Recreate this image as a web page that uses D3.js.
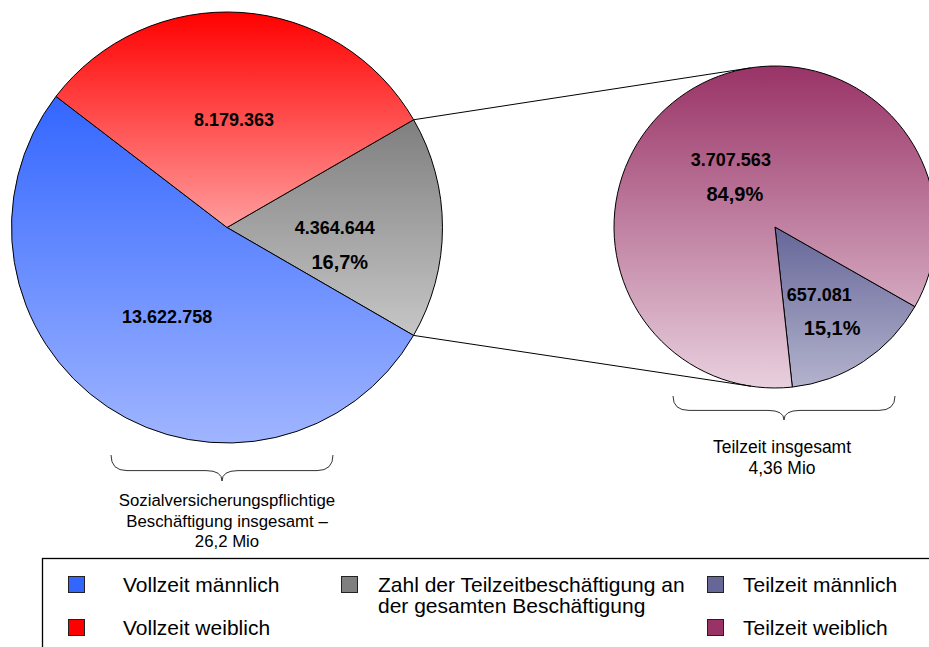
<!DOCTYPE html>
<html>
<head>
<meta charset="utf-8">
<script src="https://cdnjs.cloudflare.com/ajax/libs/d3/7.8.5/d3.min.js"></script>
<style>
  body { margin: 0; background: #fff; }
  svg { display: block; font-family: Arial, "Liberation Sans", sans-serif; }
</style>
</head>
<body>
<div id="chart"></div>
<script>
// Beschäftigung gesamt (Teilzeit / Vollzeit männlich / Vollzeit weiblich)
var mainKeys = ["teil", "vollM", "vollW"];
var mainValues = [4364644, 13622758, 8179363];
// Teilzeit (männlich / weiblich)
var partKeys = ["teilM", "teilW"];
var partValues = [657081, 3707563];

var legendLabels = {
    vollM: ["Vollzeit männlich"],
    vollW: ["Vollzeit weiblich"],
    teil: ["Zahl der Teilzeitbeschäftigung an", "der gesamten Beschäftigung"],
    teilM: ["Teilzeit männlich"],
    teilW: ["Teilzeit weiblich"]
};

// top / bottom colour of each vertical gradient
var colors = {
    vollM: ["#3366ff", "#a0b5ff"],
    vollW: ["#ff0000", "#ff9d9d"],
    teil: ["#7f7f7f", "#c6c6c6"],
    teilM: ["#666699", "#b3b3cd"],
    teilW: ["#993366", "#e8d0de"]
};

var de = d3.formatLocale({ decimal: ",", thousands: ".", grouping: [3], currency: ["", " €"] });
var fmtNum = de.format(",d"),
    fmtPct = de.format(".1%");

var width = 929, height = 647;

var svg = d3.select("#chart").append("svg")
    .attr("width", width)
    .attr("height", height);

var defs = svg.append("defs");
Object.keys(colors).forEach(function (k) {
    var g = defs.append("linearGradient")
        .attr("id", "grad-" + k)
        .attr("x1", 0).attr("y1", 0).attr("x2", 0).attr("y2", 1);
    g.append("stop").attr("offset", "0%").attr("stop-color", colors[k][0]);
    g.append("stop").attr("offset", "100%").attr("stop-color", colors[k][1]);
});

var bigR = 215.5, bigC = [227, 227.5];
var smallR = 161, smallC = [775, 227];

var mainTotal = d3.sum(mainValues),
    partTotal = d3.sum(partValues);

// ---- große Torte
var pieMain = d3.pie().sort(null)
    .startAngle(Math.PI / 3)
    .endAngle(Math.PI / 3 + 2 * Math.PI);

var arcMain = d3.arc().innerRadius(0).outerRadius(bigR);
var labelMain = d3.arc().innerRadius(bigR * 0.5).outerRadius(bigR * 0.5);

var mainArcs = pieMain(mainValues);

var gMain = svg.append("g")
    .attr("transform", "translate(" + bigC[0] + "," + bigC[1] + ")");

gMain.selectAll("path")
    .data(mainArcs)
    .enter().append("path")
    .attr("d", arcMain)
    .attr("fill", function (d, i) { return "url(#grad-" + mainKeys[i] + ")"; })
    .attr("stroke", "#000")
    .attr("stroke-width", 1);

gMain.selectAll("text.num")
    .data(mainArcs)
    .enter().append("text")
    .attr("class", "num")
    .attr("transform", function (d) { return "translate(" + labelMain.centroid(d) + ")"; })
    .attr("dy", "0.35em")
    .attr("text-anchor", "middle")
    .style("font-size", "18px")
    .style("font-weight", "bold")
    .text(function (d) { return fmtNum(d.value); });

// Anteil Teilzeit
gMain.append("text")
    .attr("transform", "translate(" + labelMain.centroid(mainArcs[0]) + ")")
    .attr("x", 5)
    .attr("y", 41)
    .attr("text-anchor", "middle")
    .style("font-size", "20px")
    .style("font-weight", "bold")
    .text(fmtPct(mainValues[0] / mainTotal));

// ---- kleine Torte
var piePart = d3.pie().sort(null)
    .startAngle(2.088)
    .endAngle(2.088 + 2 * Math.PI);

var arcPart = d3.arc().innerRadius(0).outerRadius(smallR);
var labelPart = d3.arc().innerRadius(smallR * 0.5).outerRadius(smallR * 0.5);

var partArcs = piePart(partValues);

var gPart = svg.append("g")
    .attr("transform", "translate(" + smallC[0] + "," + smallC[1] + ")");

gPart.selectAll("path")
    .data(partArcs)
    .enter().append("path")
    .attr("d", arcPart)
    .attr("fill", function (d, i) { return "url(#grad-" + partKeys[i] + ")"; })
    .attr("stroke", "#000")
    .attr("stroke-width", 1);

gPart.selectAll("text.num")
    .data(partArcs)
    .enter().append("text")
    .attr("class", "num")
    .attr("transform", function (d) { return "translate(" + labelPart.centroid(d) + ")"; })
    .attr("dy", "0.35em")
    .attr("text-anchor", "middle")
    .style("font-size", "18px")
    .style("font-weight", "bold")
    .text(function (d) { return fmtNum(d.value); });

gPart.selectAll("text.pct")
    .data(partArcs)
    .enter().append("text")
    .attr("class", "pct")
    .attr("transform", function (d) { return "translate(" + labelPart.centroid(d) + ")"; })
    .attr("x", function (d, i) { return i === 0 ? 13 : 4; })
    .attr("y", 41)
    .attr("text-anchor", "middle")
    .style("font-size", "20px")
    .style("font-weight", "bold")
    .text(function (d) { return fmtPct(d.value / partTotal); });

// ---- Verbindungslinien: von den Rändern des Teilzeit-Segments tangential an die kleine Torte
function tangent(p, c, r, sign) {
    var dx = c[0] - p[0], dy = c[1] - p[1];
    var d = Math.sqrt(dx * dx + dy * dy);
    var base = Math.atan2(dy, dx);
    var off = Math.asin(r / d) * sign;
    var len = Math.sqrt(d * d - r * r);
    return [p[0] + len * Math.cos(base + off), p[1] + len * Math.sin(base + off)];
}

var teilArc = mainArcs[0];
[teilArc.startAngle, teilArc.endAngle].forEach(function (a, i) {
    var p = [bigC[0] + bigR * Math.sin(a), bigC[1] - bigR * Math.cos(a)];
    var t = tangent(p, smallC, smallR, i === 0 ? -1 : 1);
    svg.append("line")
        .attr("x1", p[0]).attr("y1", p[1])
        .attr("x2", t[0]).attr("y2", t[1])
        .attr("stroke", "#000")
        .attr("stroke-width", 1);
});

// ---- geschweifte Klammern
function brace(x1, x2, y0, h) {
    var xm = (x1 + x2) / 2, ym = y0 + h * 0.6, w = 16;
    return "M" + x1 + "," + y0 +
        "Q" + x1 + "," + ym + " " + (x1 + w) + "," + ym +
        "L" + (xm - w) + "," + ym +
        "Q" + xm + "," + ym + " " + xm + "," + (y0 + h) +
        "Q" + xm + "," + ym + " " + (xm + w) + "," + ym +
        "L" + (x2 - w) + "," + ym +
        "Q" + x2 + "," + ym + " " + x2 + "," + y0;
}

svg.append("path")
    .attr("d", brace(111, 333, 455, 26))
    .attr("fill", "none")
    .attr("stroke", "#333")
    .attr("stroke-width", 1);

svg.append("path")
    .attr("d", brace(673, 895, 396, 24))
    .attr("fill", "none")
    .attr("stroke", "#333")
    .attr("stroke-width", 1);

var mio = de.format(",.1f"), mio2 = de.format(",.2f");

svg.append("text")
    .attr("x", 227).attr("y", 506)
    .attr("text-anchor", "middle")
    .style("font-size", "16.8px")
    .selectAll("tspan")
    .data(["Sozialversicherungspflichtige", "Beschäftigung insgesamt –", mio(mainTotal / 1e6) + " Mio"])
    .enter().append("tspan")
    .attr("x", 227)
    .attr("dy", function (d, i) { return i === 0 ? 0 : 20.5; })
    .text(function (d) { return d; });

svg.append("text")
    .attr("x", 782).attr("y", 453)
    .attr("text-anchor", "middle")
    .style("font-size", "17.5px")
    .selectAll("tspan")
    .data(["Teilzeit insgesamt", mio2(partTotal / 1e6) + " Mio"])
    .enter().append("tspan")
    .attr("x", 782)
    .attr("dy", function (d, i) { return i === 0 ? 0 : 20.5; })
    .text(function (d) { return d; });

// ---- Legende
svg.append("rect")
    .attr("x", 42.5).attr("y", 558.5)
    .attr("width", 950).attr("height", 150)
    .attr("fill", "none")
    .attr("stroke", "#000")
    .attr("stroke-width", 1.3);

var legendItems = [
    { key: "vollM", x: 68, tx: 123, row: 0 },
    { key: "vollW", x: 68, tx: 123, row: 1 },
    { key: "teil", x: 341, tx: 378, row: 0 },
    { key: "teilM", x: 707, tx: 743, row: 0 },
    { key: "teilW", x: 707, tx: 743, row: 1 }
];
var rowY = [592, 635];

var leg = svg.selectAll("g.legend")
    .data(legendItems)
    .enter().append("g")
    .attr("class", "legend");

leg.append("rect")
    .attr("x", function (d) { return d.x + 0.5; })
    .attr("y", function (d) { return rowY[d.row] - 15.5; })
    .attr("width", 16).attr("height", 16)
    .attr("fill", function (d) { return colors[d.key][0]; })
    .attr("stroke", "#222")
    .attr("stroke-width", 1);

leg.append("text")
    .attr("y", function (d) { return rowY[d.row]; })
    .style("font-size", "21px")
    .selectAll("tspan")
    .data(function (d) { return legendLabels[d.key].map(function (t) { return { t: t, x: d.tx }; }); })
    .enter().append("tspan")
    .attr("x", function (d) { return d.x; })
    .attr("dy", function (d, i) { return i === 0 ? 0 : 21; })
    .text(function (d) { return d.t; });
</script>
</body>
</html>
